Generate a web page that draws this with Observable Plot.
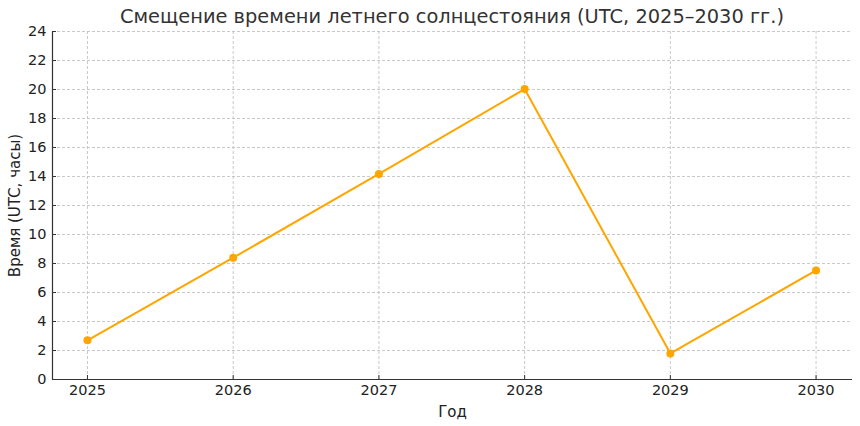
<!DOCTYPE html>
<html>
<head>
<meta charset="utf-8">
<script src="https://cdn.jsdelivr.net/npm/d3@7"></script>
<script src="https://cdn.jsdelivr.net/npm/@observablehq/plot@0.6"></script>
<style>
  body { margin: 0; background: #fff; font-family: "DejaVu Sans", sans-serif; }
  #wrap { position: relative; width: 860px; height: 426px; }
  #title { position: absolute; top: 5px; left: 52px; width: 800px; text-align: center;
           font-size: 19.4px; color: #333; font-family: "DejaVu Sans", sans-serif; white-space: nowrap; }
</style>
</head>
<body>
<div id="wrap"><div id="title">Смещение времени летнего солнцестояния (UTC, 2025–2030 гг.)</div><div id="chart"></div></div>
<script>
const years = [2025, 2026, 2027, 2028, 2029, 2030];
const hours = [2.7, 8.4, 14.18, 20.03, 1.8, 7.52];
const yTicks = [0, 2, 4, 6, 8, 10, 12, 14, 16, 18, 20, 22, 24];
const xLabel = "Год";
const yLabel = "Время (UTC, часы)";
const lineColor = "#FFA500";

const data = years.map((y, i) => ({year: y, h: hours[i]}));
const xDomain = [2024.76, 2030.25];

const W = 860, H = 426, mL = 52, mR = 8, mT = 31, mB = 47;
const tickLen = 4;

const chart = Plot.plot({
  width: W,
  height: H,
  marginLeft: mL,
  marginRight: mR,
  marginTop: mT,
  marginBottom: mB,
  style: {fontFamily: "DejaVu Sans, sans-serif", fontSize: "14px", color: "#222", background: "#fff"},
  x: {domain: xDomain, type: "linear", axis: null},
  y: {domain: [0, 24], axis: null},
  marks: [
    Plot.ruleY(yTicks, {stroke: "#bbb", strokeDasharray: "3,2", strokeWidth: 0.8}),
    Plot.ruleX(years, {stroke: "#bbb", strokeDasharray: "3,2", strokeWidth: 0.8}),
    Plot.tickY(yTicks, {y: d => d, stroke: "#333", strokeWidth: 1, insetRight: W - mL - mR - tickLen}),
    Plot.tickX(years, {x: d => d, stroke: "#333", strokeWidth: 1, insetTop: H - mT - mB - tickLen}),
    Plot.text(yTicks, {x: xDomain[0], y: d => d, dx: -6, textAnchor: "end", fontSize: 14.5, fill: "#222"}),
    Plot.text(years, {x: d => d, y: 0, text: d => String(d), lineAnchor: "top", dy: 5, fontSize: 14.5, fill: "#222"}),
    Plot.text([xLabel], {frameAnchor: "bottom", dy: 37, fontSize: 15, fill: "#222"}),
    Plot.text([yLabel], {frameAnchor: "left", dx: -37, rotate: -90, textAnchor: "middle", fontSize: 15, fill: "#222"}),
    Plot.line(data, {x: "year", y: "h", stroke: lineColor, strokeWidth: 2}),
    Plot.dot(data, {x: "year", y: "h", fill: lineColor, r: 4}),
    Plot.ruleY([0], {stroke: "#333", strokeWidth: 1.2}),
    Plot.ruleX([xDomain[0]], {stroke: "#333", strokeWidth: 1.2})
  ]
});
document.getElementById("chart").appendChild(chart);
</script>
</body>
</html>
